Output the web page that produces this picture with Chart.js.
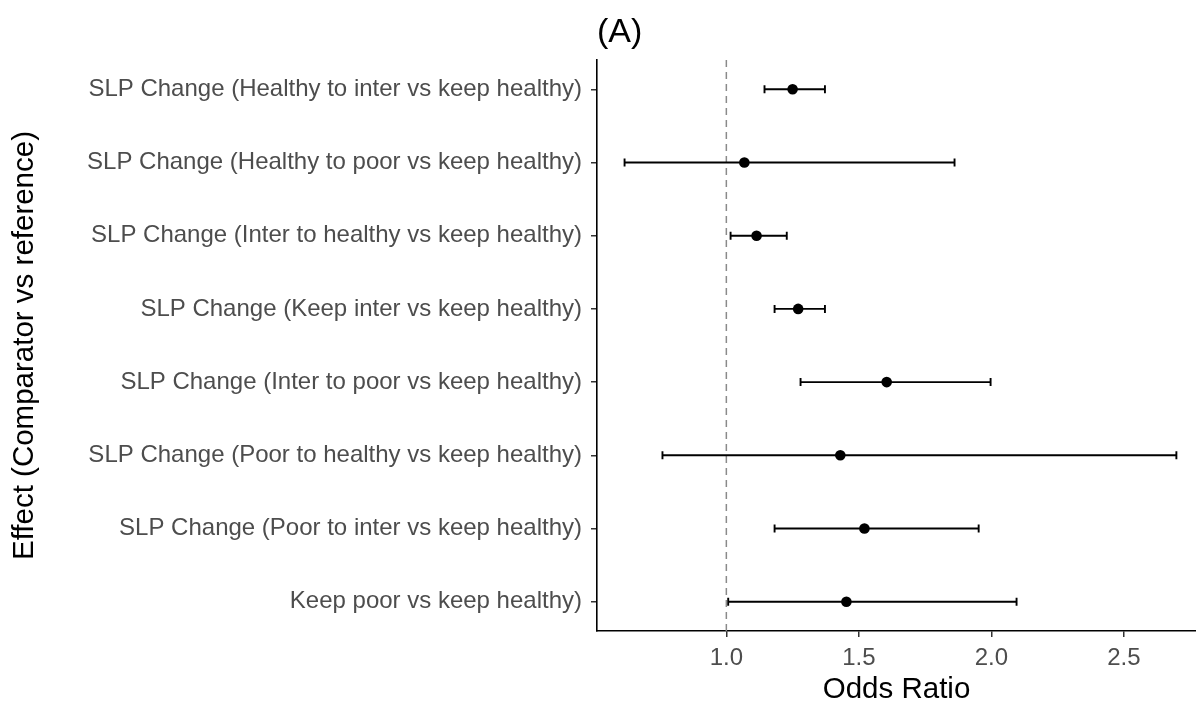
<!DOCTYPE html>
<html>
<head>
<meta charset="utf-8">
<script src="https://cdn.jsdelivr.net/npm/chart.js@4/dist/chart.umd.min.js"></script>
<style>
  html, body { margin: 0; padding: 0; background: #ffffff; }
  #wrap { width: 1196px; height: 706px; }
</style>
</head>
<body>
<div id="wrap"><canvas id="forest" width="1196" height="706"></canvas></div>
<script>
// Effects, listed top to bottom
const categories = [
  'SLP Change (Healthy to inter vs keep healthy)',
  'SLP Change (Healthy to poor vs keep healthy)',
  'SLP Change (Inter to healthy vs keep healthy)',
  'SLP Change (Keep inter vs keep healthy)',
  'SLP Change (Inter to poor vs keep healthy)',
  'SLP Change (Poor to healthy vs keep healthy)',
  'SLP Change (Poor to inter vs keep healthy)',
  'Keep poor vs keep healthy)'
];

// Odds ratios with 95% confidence limits
const oddsRatio = [1.250, 1.068, 1.114, 1.271, 1.605, 1.430, 1.521, 1.453];
const ciLower   = [1.144, 0.616, 1.016, 1.182, 1.280, 0.759, 1.182, 1.007];
const ciUpper   = [1.372, 1.861, 1.228, 1.372, 1.997, 2.698, 1.952, 2.095];

// Odds-ratio axis ticks and the null-effect reference value
const xTicks = [1.0, 1.5, 2.0, 2.5];
const nullValue = 1.0;

const FONT = '"Liberation Sans", Arial, Helvetica, sans-serif';

// Whiskers and the dashed reference line, drawn underneath the points
const intervalPlugin = {
  id: 'intervals',
  beforeDatasetsDraw(chart) {
    const { ctx, chartArea, scales: { x, y } } = chart;
    ctx.save();
    // reference line at OR = 1
    const rx = x.getPixelForValue(nullValue);
    ctx.strokeStyle = '#8a8a8a';
    ctx.lineWidth = 1.5;
    ctx.setLineDash([7, 5]);
    ctx.beginPath();
    ctx.moveTo(rx, chartArea.top);
    ctx.lineTo(rx, chartArea.bottom);
    ctx.stroke();
    ctx.setLineDash([]);
    // confidence intervals
    ctx.strokeStyle = '#000000';
    ctx.lineWidth = 1.9;
    const cap = 4;
    categories.forEach((c, i) => {
      const py = y.getPixelForValue(i + 1);
      const x0 = x.getPixelForValue(ciLower[i]);
      const x1 = x.getPixelForValue(ciUpper[i]);
      ctx.beginPath();
      ctx.moveTo(x0, py);
      ctx.lineTo(x1, py);
      ctx.moveTo(x0, py - cap);
      ctx.lineTo(x0, py + cap);
      ctx.moveTo(x1, py - cap);
      ctx.lineTo(x1, py + cap);
      ctx.stroke();
    });
    ctx.restore();
  }
};

new Chart(document.getElementById('forest'), {
  type: 'scatter',
  data: {
    datasets: [{
      data: oddsRatio.map((v, i) => ({ x: v, y: i + 1 })),
      backgroundColor: '#000000',
      borderColor: '#000000',
      pointRadius: 5.3,
      pointHoverRadius: 5.3,
      borderWidth: 0
    }]
  },
  options: {
    responsive: false,
    animation: false,
    devicePixelRatio: 1,
    layout: { padding: 0, autoPadding: false },
    plugins: {
      legend: { display: false },
      tooltip: { enabled: false },
      title: {
        display: true,
        text: '(A)',
        align: 'start',
        fullSize: false,
        color: '#000000',
        font: { family: FONT, size: 34, weight: 'normal', lineHeight: 1 },
        padding: { top: 16, bottom: 10 }
      }
    },
    scales: {
      x: {
        type: 'linear',
        min: 0.512,
        max: 2.772,
        afterBuildTicks(scale) { scale.ticks = xTicks.map(v => ({ value: v })); },
        afterFit(scale) { scale.height = 75; },
        ticks: {
          callback: v => Number(v).toFixed(1),
          color: '#4d4d4d',
          font: { family: FONT, size: 24 },
          padding: 7,
          maxRotation: 0,
          autoSkip: false
        },
        grid: { drawOnChartArea: false, drawTicks: true, tickLength: 6, color: '#333333', lineWidth: 1.5 },
        border: { display: true, color: '#000000', width: 1.6 },
        title: {
          display: true,
          text: 'Odds Ratio',
          color: '#000000',
          font: { family: FONT, size: 29.5, lineHeight: 1 },
          padding: { top: 0, bottom: 1 }
        }
      },
      y: {
        type: 'linear',
        reverse: true,
        min: 0.6,
        max: 8.4,
        afterBuildTicks(scale) { scale.ticks = categories.map((c, i) => ({ value: i + 1 })); },
        afterFit(scale) { scale.width = 597; },
        ticks: {
          callback: v => categories[Math.round(v) - 1],
          color: '#4d4d4d',
          font: { family: FONT, size: 24 },
          padding: 9,
          autoSkip: false
        },
        grid: { drawOnChartArea: false, drawTicks: true, tickLength: 6, color: '#333333', lineWidth: 1.5 },
        border: { display: true, color: '#000000', width: 1.6 },
        title: {
          display: true,
          text: 'Effect (Comparator vs reference)',
          color: '#000000',
          font: { family: FONT, size: 29.5, lineHeight: 1 },
          padding: { top: 10, bottom: 0 }
        }
      }
    }
  },
  plugins: [intervalPlugin]
});
</script>
</body>
</html>
